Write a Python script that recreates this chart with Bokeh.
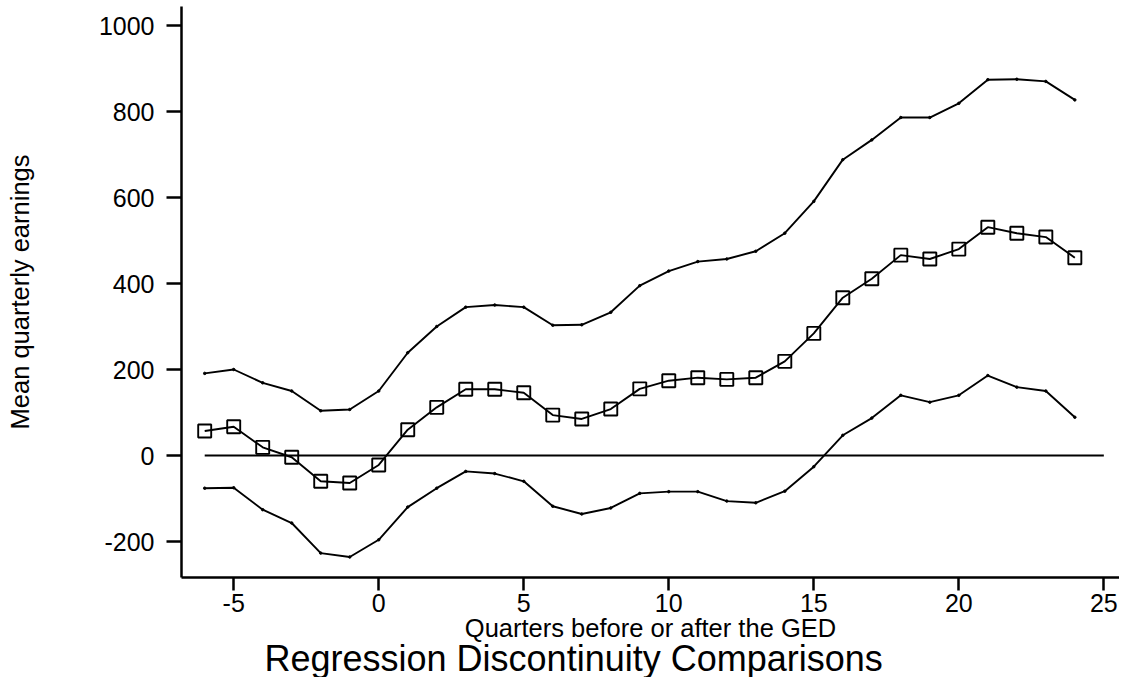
from bokeh.plotting import figure
from bokeh.models import Range1d, FixedTicker, Title
from bokeh.embed import file_html
from bokeh.resources import INLINE

# Data
quarters = list(range(-6, 25))
estimate = [57, 67, 19, -4, -60, -64, -22, 60, 112, 154, 154, 146, 94,
            85, 108, 155, 174, 181, 177, 181, 219, 284,
            367, 411, 466, 457, 480, 531, 517, 508, 460]
upper = [191, 200, 169, 150, 104, 107, 150, 239, 300, 345, 350, 345, 303,
         304, 333, 395, 429, 451, 457, 475, 517, 591,
         688, 734, 786, 786, 819, 874, 875, 870, 827]
lower = [-76, -75, -126, -157, -227, -236, -196, -120, -76, -37, -42, -60, -118,
         -136, -122, -88, -84, -84, -106, -110, -83, -26,
         47, 87, 140, 124, 140, 186, 159, 150, 89]
x_ticks = [-5, 0, 5, 10, 15, 20, 25]
x_tick_labels = ["-5", "0", "5", "10", "15", "20", "25"]
y_ticks = [-200, 0, 200, 400, 600, 800, 1000]
y_tick_labels = ["-200", "0", "200", "400", "600", "800", "1000"]

FONT = "Liberation Sans"

p = figure(width=1119, height=677,
           x_range=Range1d(-6.8, 25.54), y_range=Range1d(-283.7, 1044.2),
           output_backend="svg", toolbar_location=None,
           min_border_left=181, min_border_right=0, min_border_top=6,
           min_border_bottom=100)
p.outline_line_color = None
p.background_fill_color = "white"
p.border_fill_color = "white"
p.xgrid.visible = False
p.ygrid.visible = False

# zero reference line
p.segment(x0=[quarters[0]], y0=[0], x1=[x_ticks[-1]], y1=[0],
          line_color="black", line_width=2)

# confidence bands
for band in (upper, lower):
    p.line(quarters, band, line_color="black", line_width=1.9)
    p.scatter(quarters, band, marker="circle", size=2.5,
              line_color="black", fill_color="black")

# point estimates
p.line(quarters, estimate, line_color="black", line_width=1.9)
p.scatter(quarters, estimate, marker="square", size=13,
          line_color="black", line_width=1.9, fill_color=None)

for ax in (p.xaxis[0], p.yaxis[0]):
    ax.axis_line_width = 2.5
    ax.major_tick_line_width = 2.5
    ax.minor_tick_line_color = None
    ax.major_tick_in = 0
    ax.major_label_text_font = FONT
    ax.major_label_text_font_size = "25px"
    ax.major_label_text_color = "black"
    ax.axis_label_text_font = FONT
    ax.axis_label_text_font_size = "25.5px"
    ax.axis_label_text_font_style = "normal"
    ax.axis_label_text_color = "black"

p.xaxis[0].ticker = FixedTicker(ticks=x_ticks)
p.yaxis[0].ticker = FixedTicker(ticks=y_ticks)
p.xaxis[0].major_label_overrides = dict(zip(x_ticks, x_tick_labels))
p.yaxis[0].major_label_overrides = dict(zip(y_ticks, y_tick_labels))
p.xaxis[0].major_tick_out = 13
p.yaxis[0].major_tick_out = 15
p.xaxis[0].major_label_standoff = 3
p.yaxis[0].major_label_standoff = 12
p.xaxis[0].axis_label = "Quarters before or after the GED"
p.yaxis[0].axis_label = "Mean quarterly earnings"
p.xaxis[0].axis_label_standoff = -1
p.yaxis[0].axis_label_standoff = 62

title = Title(text="Regression Discontinuity Comparisons", align="left",
              offset=83, standoff=-18, text_font=FONT, text_font_size="36px",
              text_font_style="normal", text_color="black")
p.add_layout(title, "below")

open("out.html", "w").write(file_html(p, INLINE))
